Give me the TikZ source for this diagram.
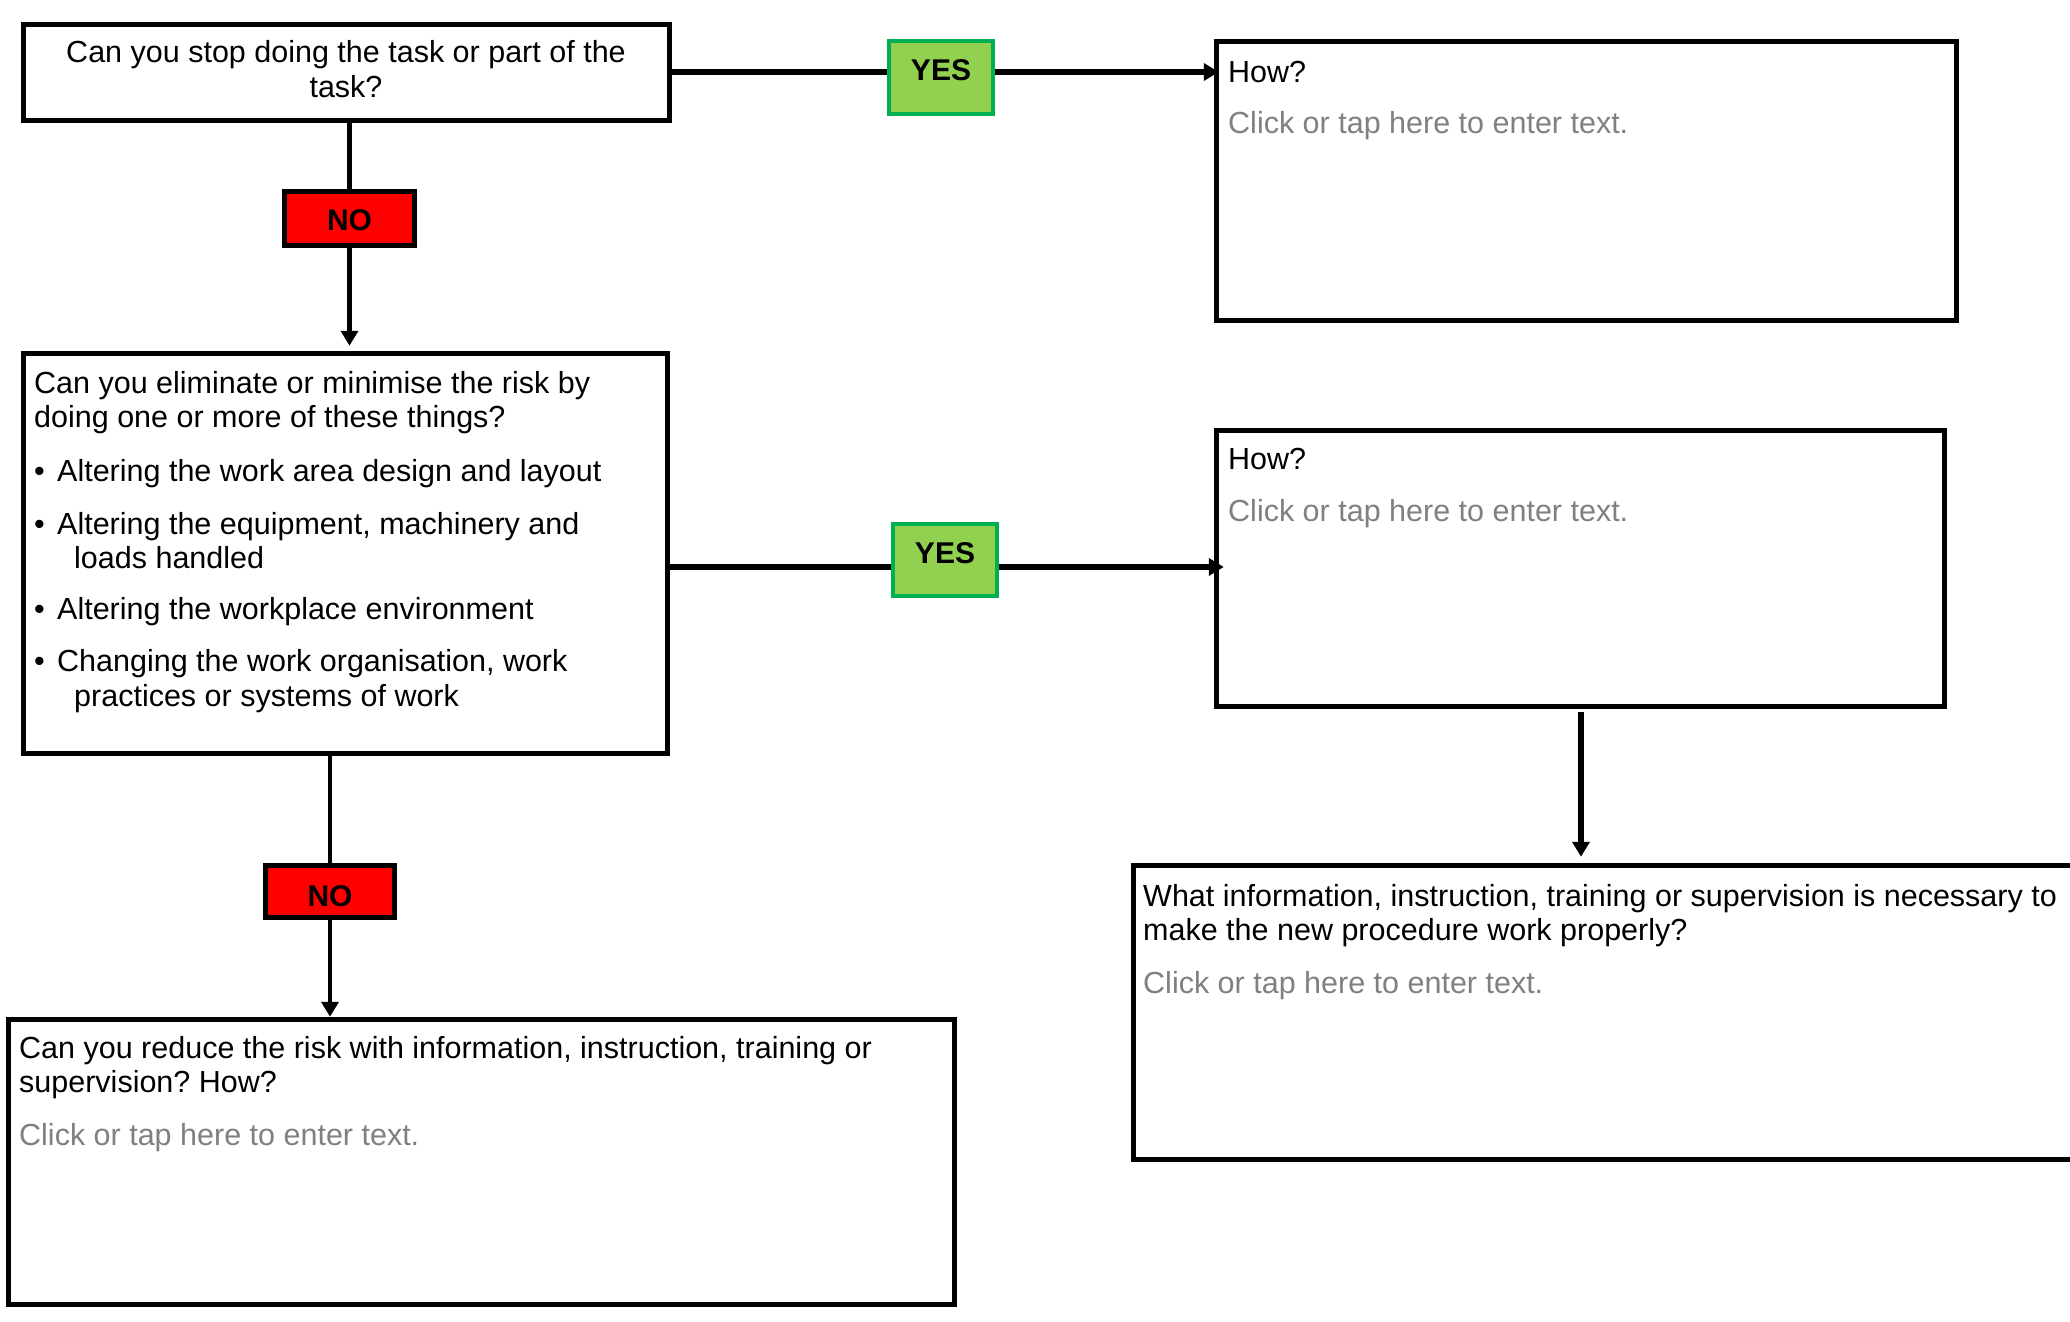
\documentclass[tikz,border=0pt]{standalone}
\usepackage{fontspec}
\setmainfont{Liberation Sans}
\usetikzlibrary{arrows.meta,fit}
\definecolor{yesfill}{HTML}{92D050}
\definecolor{yesline}{HTML}{00B050}
\definecolor{nofill}{HTML}{FF0000}
\definecolor{hint}{HTML}{808080}
\frenchspacing
\begin{document}
\begin{tikzpicture}[x=1pt,y=-1pt,
  box/.style={draw=black, line width=5.5pt, inner sep=0pt, fill=white},
  txt/.style={anchor=base west, inner sep=0pt, font=\fontsize{30.5}{34.5}\selectfont},
  ctxt/.style={anchor=base, inner sep=0pt, font=\fontsize{30.5}{34.5}\selectfont},
  hinttxt/.style={txt, text=hint},
  yesbox/.style={draw=yesline, fill=yesfill, line width=4pt, inner sep=0pt, anchor=base,
     minimum width=104pt, font=\fontsize{30}{34.5}\selectfont\bfseries},
  nobox/.style={draw=black, fill=nofill, line width=5pt, inner sep=0pt, anchor=base,
     font=\fontsize{30}{34.5}\selectfont\bfseries},
  conn/.style={line width=5.5pt, draw=black},
  vconn/.style={line width=4.8pt, draw=black},
  arrtip/.style={-{Triangle[length=15pt,width=17pt]}}
]
\useasboundingbox (0,0) rectangle (2070,1322);

% boxes
\node[box, fit={(23.5,24.5) (669.5,120.5)}] (b1) {};
\node[box, fit={(23.5,353.5) (667.5,753.5)}] (b2) {};
\node[box, fit={(1216.5,41.5) (1956.5,320.5)}] (b3) {};
\node[box, fit={(1216.5,430.5) (1944.5,706.5)}] (b4) {};
\node[box, fit={(8.5,1019.5) (954.5,1304.5)}] (b5) {};
\node[box, fit={(1133.5,865.5) (2080,1159.5)}] (b6) {};

% YES / NO labels
\node[yesbox, text height=40pt, text depth=33pt] (y1) at (941,81) {YES};
\node[yesbox, text height=39pt, text depth=33pt] (y2) at (945,563) {YES};
\node[nobox, minimum width=130pt, text height=38.5pt, text depth=15.5pt] (n1) at (349.5,230) {NO};
\node[nobox, minimum width=129pt, text height=40.5pt, text depth=11.5pt] (n2) at (330,906) {NO};

\coordinate (r1) at (0,72);
\coordinate (r2) at (0,567);

% connectors
\draw[conn] (b1.east |- r1) -- (y1.west |- r1);
\draw[conn, arrtip, shorten >=-5pt] (y1.east |- r1) -- (b3.west |- r1);
\draw[vconn] (n1.north |- b1.south) -- (n1.north);
\draw[vconn, arrtip, shorten >=5pt] (n1.south) -- (n1.south |- b2.north);
\draw[conn] (b2.east |- r2) -- (y2.west |- r2);
\draw[conn, arrtip, shorten >=-10pt] (y2.east |- r2) -- (b4.west |- r2);
\draw[vconn] (n2.north |- b2.south) -- (n2.north);
\draw[vconn, arrtip, shorten >=0pt] (n2.south) -- (n2.south |- b5.north);
\coordinate (c4) at (1581,0);
\draw[conn, arrtip, shorten >=6pt, shorten <=3pt] (b4.south -| c4) -- (b6.north -| c4);

% texts box 1
\node[ctxt] (t1a) at (346,63) {Can you stop doing the task or part of the};
\node[ctxt] (t1b) at (346,97) {task?};

% texts box 2
\node[txt] (t2a) at (34,393) {Can you eliminate or minimise the risk by};
\node[txt] (t2b) at (34,427) {doing one or more of these things?};
\node[txt] (t2c) at (34,481) {\makebox[23pt][l]{•}Altering the work area design and layout};
\node[txt] (t2d) at (34,534) {\makebox[23pt][l]{•}Altering the equipment, machinery and};
\node[txt] (t2e) at (74,568) {loads handled};
\node[txt] (t2f) at (34,619) {\makebox[23pt][l]{•}Altering the workplace environment};
\node[txt] (t2g) at (34,671) {\makebox[23pt][l]{•}Changing the work organisation, work};
\node[txt] (t2h) at (74,706) {practices or systems of work};

% texts box 3
\node[txt] (t3a) at (1228,82) {How?};
\node[hinttxt] (t3b) at (1228,133) {Click or tap here to enter text.};

% texts box 4
\node[txt] (t4a) at (1228,469) {How?};
\node[hinttxt] (t4b) at (1228,521) {Click or tap here to enter text.};

% texts box 5
\node[txt] (t5a) at (19,1058) {Can you reduce the risk with information, instruction, training or};
\node[txt] (t5b) at (19,1092) {supervision? How?};
\node[hinttxt] (t5c) at (19,1145) {Click or tap here to enter text.};

% texts box 6
\node[txt] (t6a) at (1143,906) {What information, instruction, training or supervision is necessary to};
\node[txt] (t6b) at (1143,940) {make the new procedure work properly?};
\node[hinttxt] (t6c) at (1143,993) {Click or tap here to enter text.};
\end{tikzpicture}
\end{document}
